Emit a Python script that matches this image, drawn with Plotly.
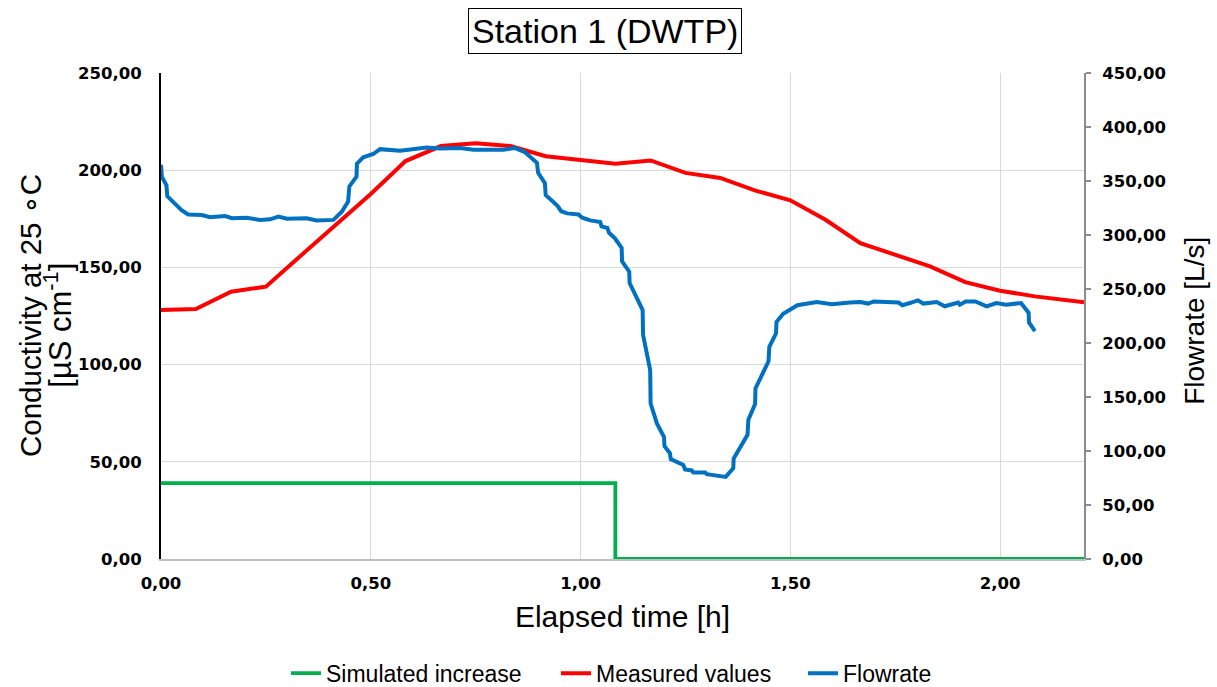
import plotly.graph_objects as go

# Measured conductivity (µS/cm) at 5-minute steps
measured_t = [0.0, 0.083, 0.167, 0.25, 0.333, 0.417, 0.5, 0.583, 0.667, 0.75, 0.833,
              0.917, 1.0, 1.083, 1.167, 1.25, 1.333, 1.417, 1.5, 1.583, 1.667, 1.75,
              1.833, 1.917, 2.0, 2.083, 2.2]
measured_c = [128.1, 128.6, 137.5, 140.1, 156.0, 172.0, 187.8, 204.7, 212.4, 213.8, 212.4,
              207.2, 205.2, 203.3, 205.0, 198.6, 196.0, 189.5, 184.5, 174.6, 162.5, 156.5,
              150.5, 142.4, 138.0, 135.1, 132.1]

# Simulated conductivity increase (µS/cm)
sim_t = [0.0, 1.083, 1.083, 2.2]
sim_c = [39.0, 39.0, 0.0, 0.0]

# Flowrate (L/s)
flow_t = [0.000, 0.002, 0.013, 0.015, 0.033, 0.049, 0.065, 0.097, 0.117, 0.153, 0.169,
          0.204, 0.236, 0.260, 0.280, 0.300, 0.347, 0.371, 0.411, 0.431, 0.446, 0.449,
          0.466, 0.467, 0.482, 0.506, 0.522, 0.546, 0.570, 0.633, 0.665, 0.713, 0.745,
          0.816, 0.844, 0.866, 0.896, 0.899, 0.915, 0.917, 0.945, 0.954, 0.968, 0.995,
          1.004, 1.023, 1.047, 1.050, 1.064, 1.068, 1.082, 1.098, 1.099, 1.116, 1.117,
          1.148, 1.149, 1.166, 1.167, 1.182, 1.199, 1.200, 1.213, 1.215, 1.245, 1.249,
          1.265, 1.269, 1.297, 1.301, 1.346, 1.364, 1.365, 1.398, 1.400, 1.416, 1.417,
          1.448, 1.450, 1.466, 1.467, 1.483, 1.500, 1.517, 1.563, 1.599, 1.642, 1.667,
          1.685, 1.699, 1.758, 1.767, 1.785, 1.804, 1.817, 1.849, 1.868, 1.886, 1.900,
          1.904, 1.918, 1.941, 1.968, 1.991, 2.014, 2.050, 2.068, 2.069, 2.083]
flow_q = [365.0, 354.0, 346.0, 336.0, 329.0, 323.0, 319.0, 318.5, 316.5, 317.5, 315.5,
          316.0, 314.0, 314.5, 317.0, 315.0, 315.5, 313.5, 314.0, 321.5, 331.0, 345.0,
          354.0, 366.0, 372.0, 375.0, 379.5, 378.5, 378.0, 381.0, 380.0, 380.5, 379.0,
          379.0, 380.5, 377.0, 367.0, 357.5, 348.0, 337.0, 327.0, 322.0, 320.0, 319.0,
          316.0, 313.5, 312.0, 308.0, 306.5, 302.0, 297.0, 288.0, 275.5, 266.0, 255.5,
          230.5, 207.5, 175.0, 144.0, 125.5, 113.0, 104.5, 98.0, 92.5, 87.0, 83.0,
          82.0, 80.0, 80.0, 78.5, 76.0, 84.0, 93.0, 115.0, 129.0, 143.5, 158.0,
          183.0, 196.5, 209.0, 219.5, 227.0, 230.5, 235.0, 238.0, 236.0, 237.5, 238.0,
          236.5, 238.5, 237.5, 235.0, 237.0, 239.5, 236.5, 238.0, 234.0, 235.5, 237.5,
          235.5, 238.5, 238.5, 234.0, 237.0, 235.5, 237.0, 228.0, 219.0, 211.0]

GREEN = "#00b050"
RED = "#ff0000"
BLUE = "#0070c0"
GRID = "#d9d9d9"
TXT = "Liberation Sans, Arial, sans-serif"
TICKFONT = dict(family="DejaVu Sans, Verdana, sans-serif", size=16.5, color="black", weight="bold")

# plot-area geometry in pixels, used for placing the legend entries and side titles
PLOT_L, PLOT_W = 161, 923


def px_to_paper(x):
    return (x - PLOT_L) / PLOT_W


fig = go.Figure()
fig.add_trace(go.Scatter(x=sim_t, y=sim_c, mode="lines", name="Simulated increase",
                         line=dict(color=GREEN, width=3.8), legend="legend"))
fig.add_trace(go.Scatter(x=measured_t, y=measured_c, mode="lines", name="Measured values",
                         line=dict(color=RED, width=4), legend="legend2"))
fig.add_trace(go.Scatter(x=flow_t, y=flow_q, mode="lines", name="Flowrate", yaxis="y2",
                         line=dict(color=BLUE, width=4), legend="legend3"))

legend_common = dict(orientation="h", xanchor="left", yref="container", y=0.02,
                     yanchor="middle", font=dict(family=TXT, size=23, color="black"),
                     bgcolor="rgba(0,0,0,0)")

fig.update_layout(
    width=1217, height=687,
    margin=dict(l=161, r=133, t=73, b=128),
    plot_bgcolor="white", paper_bgcolor="white",
    separators=",.",
    showlegend=True,
    legend=dict(x=px_to_paper(286), **legend_common),
    legend2=dict(x=px_to_paper(556), **legend_common),
    legend3=dict(x=px_to_paper(803), **legend_common),
    xaxis=dict(range=[0, 2.2], dtick=0.5, tick0=0, tickformat=".2f",
               showgrid=True, gridcolor=GRID, gridwidth=1, zeroline=False,
               showline=True, linecolor="#bfbfbf", linewidth=2,
               ticks="", ticklabelstandoff=8, tickfont=TICKFONT,
               title=dict(text="Elapsed time [h]", font=dict(family=TXT, size=30, color="black"),
                          standoff=14)),
    yaxis=dict(range=[0, 250], dtick=50, tick0=0, tickformat=".2f",
               showgrid=True, gridcolor=GRID, gridwidth=1, zeroline=False,
               showline=True, linecolor="black", linewidth=2,
               ticks="", ticklabelstandoff=14, tickfont=TICKFONT),
    yaxis2=dict(range=[0, 450], dtick=50, tick0=0, tickformat=".2f",
                overlaying="y", side="right", showgrid=False, zeroline=False,
                showline=True, linecolor="#8c8c8c", linewidth=2,
                ticks="outside", ticklen=5, tickcolor="#8c8c8c", tickwidth=1.5,
                ticklabelstandoff=8, tickfont=TICKFONT),
    annotations=[
        dict(text="Station 1 (DWTP)", xref="paper", yref="paper", x=0.481, y=1.0864,
             xanchor="center", yanchor="middle", showarrow=False,
             font=dict(family=TXT, size=34, color="black"),
             bordercolor="black", borderwidth=1, borderpad=3, bgcolor="white"),
        dict(text="Conductivity at 25 ∘C", xref="paper", yref="paper",
             x=px_to_paper(30), y=0.5, xanchor="center", yanchor="middle", textangle=-90,
             showarrow=False, font=dict(family=TXT, size=29.5, color="black")),
        dict(text="[µS cm<sup>-1</sup>]", xref="paper", yref="paper",
             x=px_to_paper(58), y=0.48, xanchor="center", yanchor="middle", textangle=-90,
             showarrow=False, font=dict(family=TXT, size=31, color="black")),
        dict(text="Flowrate [L/s]", xref="paper", yref="paper",
             x=px_to_paper(1195), y=0.49, xanchor="center", yanchor="middle", textangle=-90,
             showarrow=False, font=dict(family=TXT, size=28, color="black")),
    ],
)

fig.write_html("out.html")
